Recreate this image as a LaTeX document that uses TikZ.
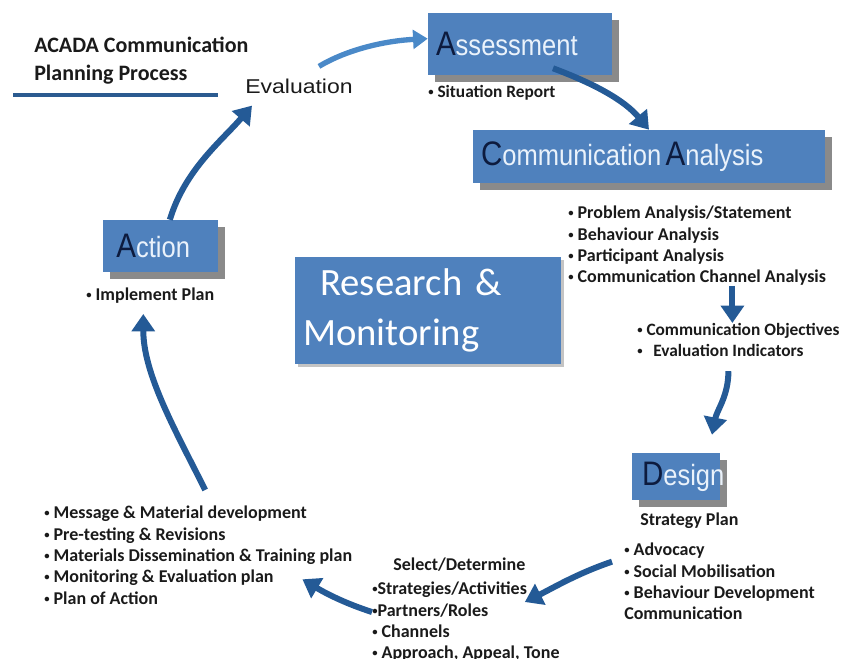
\documentclass[tikz,border=0pt]{standalone}
\usepackage{fontspec}
\setmainfont{Carlito}
\newfontfamily\boxfont[FakeStretch=0.87]{Liberation Sans}
\newfontfamily\evalfont[FakeStretch=1.15]{Liberation Sans}
\usepackage{xcolor}
\usepackage{tikz}
\usetikzlibrary{arrows.meta,shadows}
\definecolor{boxblue}{HTML}{4F81BD}
\definecolor{arrowblue}{HTML}{245A96}
\definecolor{lightarrow}{HTML}{4A89C8}
\definecolor{navy}{HTML}{0D1B3E}
\definecolor{boxtext}{HTML}{EAF2FB}
\definecolor{shade}{HTML}{8A8A8A}
\definecolor{ink}{HTML}{1A1A1A}
\definecolor{rulecol}{HTML}{2B5B90}
\tikzset{
  stage/.style={fill=boxblue, text=boxtext, font=\boxfont, align=left, inner ysep=0pt,
    drop shadow={shadow xshift=5pt, shadow yshift=-5pt, fill=shade, opacity=1}},
  research/.style={fill=boxblue, text=white, align=left, inner xsep=6pt, inner ysep=0pt,
    font=\fontsize{29}{37.5}\selectfont,
    drop shadow={shadow xshift=2.5pt, shadow yshift=-2.5pt, fill=shade, opacity=0.5}},
  items/.style={font=\fontsize{13.5}{16}\selectfont\bfseries, text=ink, align=left, inner sep=0pt},
  flow/.style={draw=arrowblue, line width=4.5pt, -{Triangle[length=13pt,width=17pt]}},
  flowlight/.style={draw=lightarrow, line width=4pt, -{Triangle[length=11pt,width=14pt]}},
}
\newcommand{\stagename}[2]{{\fontsize{25.5}{25}\selectfont\color{navy}#1}{\fontsize{22}{22}\selectfont #2}}
\newcommand{\dotmark}{\raisebox{1.6pt}{\fontsize{8}{8}\selectfont\textbullet}}
\newcommand{\bul}{\dotmark~}

\begin{document}
\begin{tikzpicture}[x=0.75pt, y=-0.75pt]
  \useasboundingbox (0,0) rectangle (843,659);

  % heading
  \node[items, font=\fontsize{16.5}{21}\selectfont\bfseries, anchor=north west] (title) at (34,37)
    {ACADA Communication\\ Planning Process};
  \draw[draw=rulecol, line width=2.4pt] (13,95) -- (218,95);
  \node[inner sep=0pt, anchor=west, font=\evalfont\fontsize{15}{15}\selectfont, text=ink] (eval) at (245,86) {Evaluation};

  % stage boxes
  \node[stage, text width=126pt, inner xsep=6pt, minimum height=46.5pt] (ass) at (520,44) {\stagename{A}{ssessment}};
  \node[stage, text width=252pt, inner xsep=6pt, minimum height=39.75pt] (ca) at (649,156.5)
    {\stagename{C}{ommunication }\stagename{A}{nalysis}};
  \node[stage, text width=51pt, inner xsep=7.5pt, minimum height=35.25pt] (design) at (676,476.5) {\stagename{D}{esign}};
  \node[stage, text width=66.25pt, inner xsep=10pt, minimum height=39pt] (action) at (160.5,246) {\stagename{A}{ction}};
  \node[research, text width=187.5pt, minimum height=80.25pt] (rm) at (428,310.5)
    {\hspace*{13pt}Research \&\\Monitoring};

  % item lists
  \node[items, anchor=west, font=\fontsize{13}{16}\selectfont\bfseries] (sitrep) at (428,93) {\bul Situation Report};
  \node[items, anchor=north west] (calist) at (568,206)
    {\bul Problem Analysis/Statement\\ \bul Behaviour Analysis\\ \bul Participant Analysis\\ \bul Communication Channel Analysis};
  \node[items, anchor=north west, font=\fontsize{13}{16}\selectfont\bfseries] (obj) at (637,323)
    {\bul Communication Objectives\\ \bul\, Evaluation Indicators};
  \node[items, anchor=west] (strat) at (640,521) {Strategy Plan};
  \node[items, anchor=north west] (dlist) at (624,543)
    {\bul Advocacy\\ \bul Social Mobilisation\\ \bul Behaviour Development\\ Communication};
  \node[items, anchor=west] (selhead) at (393,565) {Select/Determine};
  \node[items, anchor=north west] (sellist) at (372,582)
    {\dotmark Strategies/Activities\\ \dotmark Partners/Roles\\ \bul Channels\\ \bul Approach, Appeal, Tone};
  \node[items, anchor=north west] (leftlist) at (44,506)
    {\bul Message \& Material development\\ \bul Pre-testing \& Revisions\\ \bul Materials Dissemination \& Training plan\\
     \bul Monitoring \& Evaluation plan\\ \bul Plan of Action};
  \node[items, anchor=west] (impl) at (86,296) {\bul Implement Plan};

  % cycle arrows
  \draw[flowlight] ([shift={(20,-12)}]eval.north) .. controls +(30,-18) and +(-40,2) .. ([yshift=4pt]ass.west);
  \draw[flow] ([shift={(33,-7)}]ass.south) .. controls +(40,15) and +(-25,-30) .. (ca.north);
  \draw[flow] ([xshift=-4.5pt]calist.south -| obj.north) .. controls +(0,12) and +(0,-12) .. ([xshift=-4.5pt]obj.north);
  \draw[flow] ([shift={(-10,14)}]obj.south) .. controls +(0,25) and +(5,-25) .. ([shift={(36,-18)}]design.north);
  \draw[flow] ([shift={(-12,-20)}]dlist.west) .. controls +(-35,12) and +(30,-15) .. ([shift={(-35,-20)}]sellist.east);
  \draw[flow] ([shift={(0,-10)}]sellist.west) .. controls +(-25,-8) and +(25,15) .. ([shift={(-50,24)}]leftlist.east);
  \draw[flow] ([shift={(7,-16)}]leftlist.north) .. controls +(-30,-60) and +(0,60) .. ([shift={(-7,10)}]impl.south);
  \draw[flow] ([xshift=7pt]action.north) .. controls +(15,-50) and +(-30,35) .. ([shift={(7,12)}]eval.south west);
\end{tikzpicture}
\end{document}
